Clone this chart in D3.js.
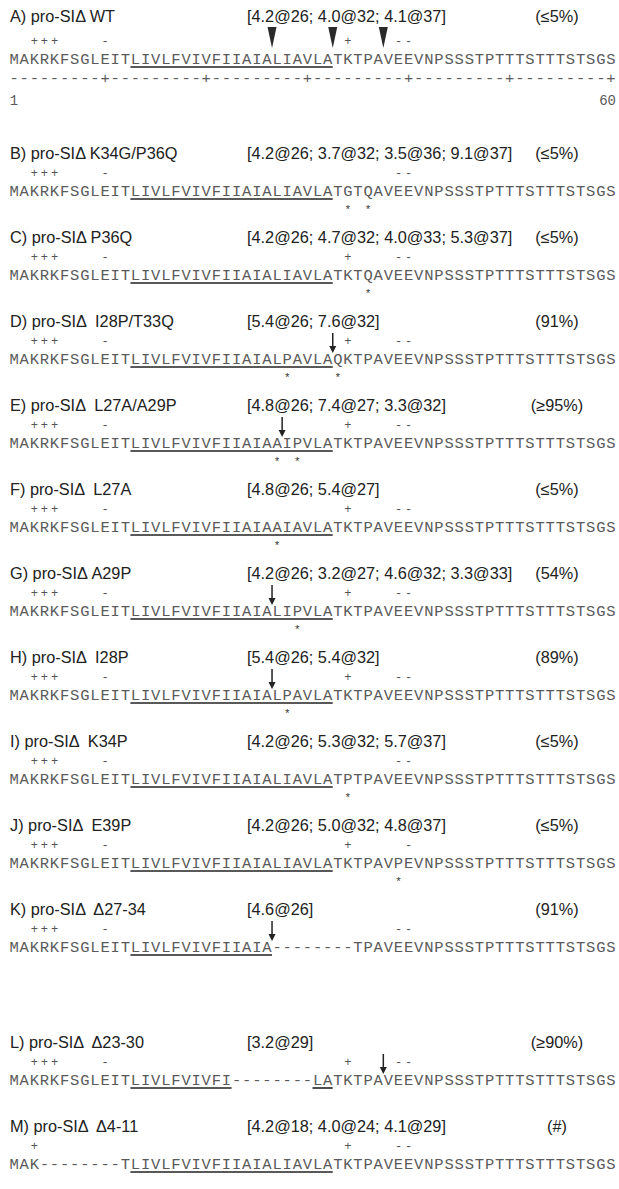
<!DOCTYPE html>
<html>
<head>
<meta charset="utf-8">
<script src="https://cdn.jsdelivr.net/npm/d3@7/dist/d3.min.js"></script>
<style>
  html, body { margin: 0; padding: 0; background: #fff; }
  svg { display: block; }
</style>
</head>
<body>
<div id="chart"></div>
<script>
// ---------------- DATA ----------------
const labels = [
  "A) pro-SIΔ WT",
  "B) pro-SIΔ K34G/P36Q",
  "C) pro-SIΔ P36Q",
  "D) pro-SIΔ  I28P/T33Q",
  "E) pro-SIΔ  L27A/A29P",
  "F) pro-SIΔ  L27A",
  "G) pro-SIΔ A29P",
  "H) pro-SIΔ  I28P",
  "I) pro-SIΔ  K34P",
  "J) pro-SIΔ  E39P",
  "K) pro-SIΔ  Δ27-34",
  "L) pro-SIΔ  Δ23-30",
  "M) pro-SIΔ  Δ4-11"
];
const brackets = [
  "[4.2@26; 4.0@32; 4.1@37]",
  "[4.2@26; 3.7@32; 3.5@36; 9.1@37]",
  "[4.2@26; 4.7@32; 4.0@33; 5.3@37]",
  "[5.4@26; 7.6@32]",
  "[4.8@26; 7.4@27; 3.3@32]",
  "[4.8@26; 5.4@27]",
  "[4.2@26; 3.2@27; 4.6@32; 3.3@33]",
  "[5.4@26; 5.4@32]",
  "[4.2@26; 5.3@32; 5.7@37]",
  "[4.2@26; 5.0@32; 4.8@37]",
  "[4.6@26]",
  "[3.2@29]",
  "[4.2@18; 4.0@24; 4.1@29]"
];
const percents = ["(≤5%)", "(≤5%)", "(≤5%)", "(91%)", "(≥95%)", "(≤5%)", "(54%)",
                  "(89%)", "(≤5%)", "(≤5%)", "(91%)", "(≥90%)", "(#)"];
const sequences = [
  "MAKRKFSGLEITLIVLFVIVFIIAIALIAVLATKTPAVEEVNPSSSTPTTTSTTTSTSGS",
  "MAKRKFSGLEITLIVLFVIVFIIAIALIAVLATGTQAVEEVNPSSSTPTTTSTTTSTSGS",
  "MAKRKFSGLEITLIVLFVIVFIIAIALIAVLATKTQAVEEVNPSSSTPTTTSTTTSTSGS",
  "MAKRKFSGLEITLIVLFVIVFIIAIALPAVLAQKTPAVEEVNPSSSTPTTTSTTTSTSGS",
  "MAKRKFSGLEITLIVLFVIVFIIAIAAIPVLATKTPAVEEVNPSSSTPTTTSTTTSTSGS",
  "MAKRKFSGLEITLIVLFVIVFIIAIAAIAVLATKTPAVEEVNPSSSTPTTTSTTTSTSGS",
  "MAKRKFSGLEITLIVLFVIVFIIAIALIPVLATKTPAVEEVNPSSSTPTTTSTTTSTSGS",
  "MAKRKFSGLEITLIVLFVIVFIIAIALPAVLATKTPAVEEVNPSSSTPTTTSTTTSTSGS",
  "MAKRKFSGLEITLIVLFVIVFIIAIALIAVLATPTPAVEEVNPSSSTPTTTSTTTSTSGS",
  "MAKRKFSGLEITLIVLFVIVFIIAIALIAVLATKTPAVPEVNPSSSTPTTTSTTTSTSGS",
  "MAKRKFSGLEITLIVLFVIVFIIAIA--------TPAVEEVNPSSSTPTTTSTTTSTSGS",
  "MAKRKFSGLEITLIVLFVIVFI--------LATKTPAVEEVNPSSSTPTTTSTTTSTSGS",
  "MAK--------TLIVLFVIVFIIAIALIAVLATKTPAVEEVNPSSSTPTTTSTTTSTSGS"
];
// residue ranges (1-based, inclusive) that are underlined
const underlines = [
  [[13, 32]], [[13, 32]], [[13, 32]], [[13, 32]], [[13, 32]], [[13, 32]], [[13, 32]],
  [[13, 32]], [[13, 32]], [[13, 32]], [[13, 26]], [[13, 22], [31, 32]], [[13, 32]]
];
// charge marks (1-based residue positions)
const plusPos = [
  [3, 4, 5, 34], [3, 4, 5], [3, 4, 5, 34], [3, 4, 5, 34], [3, 4, 5, 34], [3, 4, 5, 34],
  [3, 4, 5, 34], [3, 4, 5, 34], [3, 4, 5], [3, 4, 5, 34], [3, 4, 5], [3, 4, 5, 34], [3, 34]
];
const minusPos = [
  [10, 39, 40], [10, 39, 40], [10, 39, 40], [10, 39, 40], [10, 39, 40], [10, 39, 40],
  [10, 39, 40], [10, 39, 40], [10, 39, 40], [10, 40], [10, 39, 40], [10, 39, 40], [39, 40]
];
// mutated residues marked with an asterisk
const starPos = [[], [34, 36], [36], [28, 33], [27, 29], [27], [29], [28], [34], [39], [], [], []];
// cleavage arrows: after residue n
const arrowPos = [[], [], [], [32], [27], [], [26], [26], [], [], [26], [37], []];
// arrowheads of the WT construct: after residue n
const wedgePos = [26, 32, 37];
// ruler below WT
const ruler = "---------+---------+---------+---------+---------+---------+";
const rulerLabels = ["1", "60"];

// ---------------- LAYOUT ----------------
const W = 619, H = 1189;
const monoFont = "'Liberation Mono', 'DejaVu Sans Mono', monospace";
const sansFont = "'Liberation Sans', Arial, sans-serif";
const sansSize = 16.3;
const nRes = 60;
const x = d3.scaleLinear().domain([0, nRes]).range([9, 616]);
const rowY = i => i === 0 ? 64 : (i <= 10 ? 196 + 84 * (i - 1) : 1085 + 84 * (i - 11));

const svg = d3.select("#chart").append("svg")
  .attr("width", W).attr("height", H)
  .attr("viewBox", `0 0 ${W} ${H}`);
svg.append("rect").attr("width", W).attr("height", H).attr("fill", "#fff");

const rows = svg.selectAll("g.row")
  .data(labels.map((l, i) => ({
    i, label: l, bracket: brackets[i], pct: percents[i], seq: sequences[i],
    under: underlines[i], plus: plusPos[i], minus: minusPos[i],
    stars: starPos[i], arrows: arrowPos[i]
  })))
  .join("g").attr("class", "row")
  .attr("transform", d => `translate(0,${rowY(d.i)})`);

const labelY = d => d.i === 0 ? -42 : -37;

// label
rows.append("text")
  .attr("x", 10).attr("y", labelY)
  .attr("font-family", sansFont).attr("font-size", sansSize).attr("fill", "#222")
  .style("white-space", "pre")
  .text(d => d.label);

// bracket
rows.append("text")
  .attr("class", "bracket")
  .attr("x", 247).attr("y", labelY)
  .attr("font-family", sansFont).attr("font-size", sansSize).attr("fill", "#222")
  .text(d => d.bracket);

// percent
rows.each(function (d) {
  const g = d3.select(this);
  const bEnd = 247 + g.select("text.bracket").node().getComputedTextLength();
  const t = g.append("text")
    .attr("y", labelY(d))
    .attr("font-family", sansFont).attr("font-size", sansSize).attr("fill", "#222")
    .text(d.pct);
  const w = t.node().getComputedTextLength();
  const cx = 557;
  if (cx - w / 2 < bEnd + 9) t.attr("x", bEnd + 9).attr("text-anchor", "start");
  else t.attr("x", cx).attr("text-anchor", "middle");
});

// charges
rows.each(function (d) {
  const g = d3.select(this);
  const marks = d.plus.map(p => ({ p, s: "+" })).concat(d.minus.map(p => ({ p, s: "-" })));
  g.selectAll("text.charge").data(marks).join("text")
    .attr("class", "charge")
    .attr("x", m => x(m.p - 0.5)).attr("y", -19)
    .attr("text-anchor", "middle")
    .attr("font-family", monoFont).attr("font-size", 12).attr("fill", "#555")
    .text(m => m.s);
});

// sequence characters, underlines, stars, arrows
rows.each(function (d) {
  const g = d3.select(this);
  g.selectAll("text.res").data(d.seq.split("")).join("text")
    .attr("class", "res")
    .attr("x", (c, k) => x(k + 0.5)).attr("y", 0)
    .attr("text-anchor", "middle")
    .attr("font-family", monoFont).attr("font-size", 15.5).attr("fill", "#5a5a5a")
    .text(c => c);
  g.selectAll("line.under").data(d.under).join("line")
    .attr("class", "under")
    .attr("x1", r => x(r[0] - 1)).attr("x2", r => x(r[1]))
    .attr("y1", 3).attr("y2", 3)
    .attr("stroke", "#222").attr("stroke-width", 1.6);
  g.selectAll("text.star").data(d.stars).join("text")
    .attr("class", "star")
    .attr("x", p => x(p - 0.5)).attr("y", 17)
    .attr("text-anchor", "middle")
    .attr("font-family", monoFont).attr("font-size", 11).attr("fill", "#333")
    .text("*");
  g.selectAll("g.arrow").data(d.arrows).join("g")
    .attr("class", "arrow")
    .attr("transform", p => `translate(${x(p)},0)`)
    .call(a => {
      a.append("line").attr("x1", 0).attr("x2", 0).attr("y1", -31).attr("y2", -16)
        .attr("stroke", "#222").attr("stroke-width", 1.5);
      a.append("path").attr("d", "M-3.5,-18L3.5,-18L0,-11Z").attr("fill", "#222");
    });
});

// WT extras: wedges, ruler, ruler labels
const wt = rows.filter(d => d.i === 0);
wt.selectAll("path.wedge").data(wedgePos).join("path")
  .attr("class", "wedge")
  .attr("d", p => `M${x(p) - 4.5},-37L${x(p) + 4.5},-37L${x(p)},-16Z`)
  .attr("fill", "#2a2a2a");
wt.selectAll("text.ruler").data(ruler.split("")).join("text")
  .attr("class", "ruler")
  .attr("x", (c, k) => x(k + 0.5)).attr("y", 19)
  .attr("text-anchor", "middle")
  .attr("font-family", monoFont).attr("font-size", 15.5).attr("fill", "#5a5a5a")
  .text(c => c);
wt.append("text")
  .attr("x", x(0.5)).attr("y", 41).attr("text-anchor", "middle")
  .attr("font-family", monoFont).attr("font-size", 14).attr("fill", "#5a5a5a")
  .text(rulerLabels[0]);
wt.append("text")
  .attr("x", x(nRes)).attr("y", 41).attr("text-anchor", "end")
  .attr("font-family", monoFont).attr("font-size", 14).attr("fill", "#5a5a5a")
  .text(rulerLabels[1]);
</script>
</body>
</html>
